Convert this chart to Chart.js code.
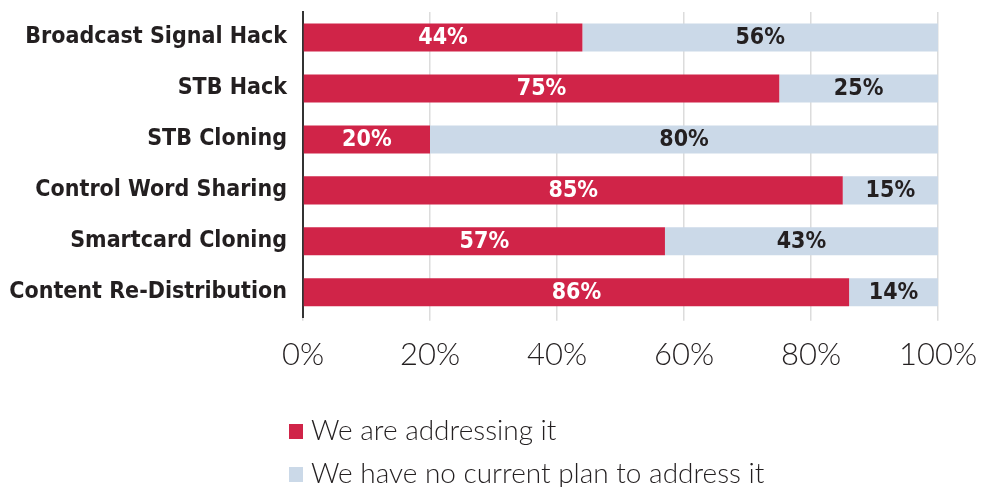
<!DOCTYPE html>
<html>
<head>
<meta charset="utf-8">
<script src="https://cdn.jsdelivr.net/npm/chart.js@4/dist/chart.umd.min.js"></script>
<style>
  html, body { margin: 0; padding: 0; background: #fff; }
  #wrap { position: relative; width: 982px; height: 487px; }
</style>
</head>
<body>
<div id="wrap"><canvas id="chart" width="982" height="487"></canvas></div>
<script>
  // --- DATA ---
  const categories = [
    "Broadcast Signal Hack",
    "STB Hack",
    "STB Cloning",
    "Control Word Sharing",
    "Smartcard Cloning",
    "Content Re-Distribution"
  ];
  const addressing = [44, 75, 20, 85, 57, 86];
  const noPlan = [56, 25, 80, 15, 43, 14];
  const seriesNames = ["We are addressing it", "We have no current plan to address it"];
  const xTicks = [0, 20, 40, 60, 80, 100];

  const RED = "#d02448";
  const BLUE = "#cbd9e8";
  const INK = "#231f20";
  const LABEL_FONT = "'DejaVu Sans Condensed', sans-serif";

  // value text centred inside each bar segment
  const barLabels = {
    id: "barLabels",
    afterDatasetsDraw(chart) {
      const ctx = chart.ctx;
      ctx.save();
      ctx.font = "bold 23px " + LABEL_FONT;
      ctx.textAlign = "center";
      ctx.textBaseline = "middle";
      chart.data.datasets.forEach((ds, di) => {
        const meta = chart.getDatasetMeta(di);
        ctx.fillStyle = di === 0 ? "#ffffff" : INK;
        meta.data.forEach((bar, i) => {
          const { x, y, base } = bar.getProps(["x", "y", "base"], true);
          ctx.fillText(ds.data[i] + "%", (x + base) / 2, y + 1);
        });
      });
      ctx.restore();
    }
  };

  // stacked legend under the axis
  const stackedLegend = {
    id: "stackedLegend",
    afterDraw(chart) {
      const ctx = chart.ctx;
      ctx.save();
      ctx.font = "300 28px Lato, sans-serif";
      ctx.textBaseline = "middle";
      chart.data.datasets.forEach((ds, di) => {
        const y = 431 + di * 43;
        ctx.fillStyle = ds.backgroundColor;
        ctx.fillRect(289, y - 7, 14, 15);
        ctx.fillStyle = INK;
        ctx.fillText(ds.label, 311, y);
      });
      ctx.restore();
    }
  };

  new Chart(document.getElementById("chart"), {
    type: "bar",
    data: {
      labels: categories,
      datasets: [
        { label: seriesNames[0], data: addressing, backgroundColor: RED },
        { label: seriesNames[1], data: noPlan, backgroundColor: BLUE }
      ]
    },
    options: {
      indexAxis: "y",
      responsive: false,
      animation: false,
      layout: { padding: { top: 12, right: 44, bottom: 97, left: 0 } },
      datasets: { bar: { categoryPercentage: 1, barPercentage: 0.55 } },
      plugins: { legend: { display: false }, tooltip: { enabled: false } },
      scales: {
        x: {
          stacked: true,
          min: 0,
          max: 100,
          afterBuildTicks: (axis) => { axis.ticks = xTicks.map(v => ({ value: v })); },
          afterFit: (axis) => {
            axis.paddingLeft = 0;
            axis.paddingRight = 0;
          },
          grid: { color: "#dcdcdc", lineWidth: 1.5, drawTicks: true, tickLength: 3 },
          border: { display: false },
          ticks: {
            color: INK,
            padding: 16,
            font: { family: "Lato", size: 31, weight: "300" },
            callback: (v) => v + "%"
          }
        },
        y: {
          stacked: true,
          afterFit: (axis) => {
            axis.width = 303;
            axis.paddingTop = 0;
            axis.paddingBottom = 0;
          },
          grid: { display: false },
          border: { display: true, color: "#333", width: 2 },
          ticks: {
            color: INK,
            padding: 8,
            font: { family: LABEL_FONT, size: 23, weight: "bold" }
          }
        }
      }
    },
    plugins: [barLabels, stackedLegend]
  });
</script>
</body>
</html>
